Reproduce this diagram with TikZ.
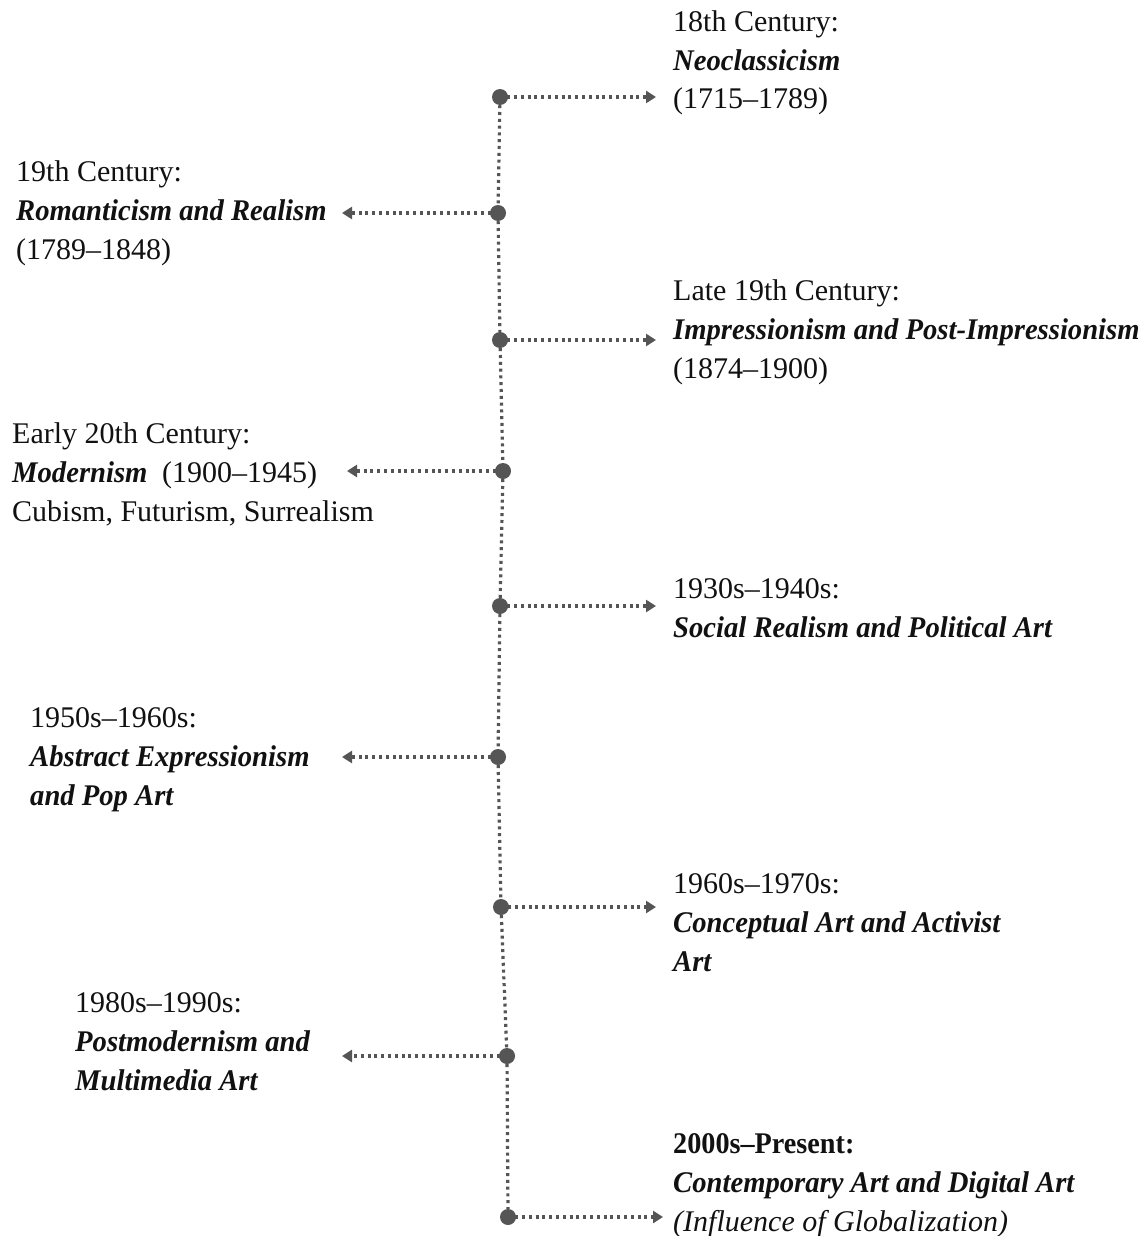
\documentclass[tikz,border=0pt]{standalone}
\usepackage{fontspec}
\setmainfont{Liberation Serif}[
  BoldFeatures={FakeStretch=0.94},
  BoldItalicFeatures={FakeStretch=0.955}]
\usetikzlibrary{arrows.meta}
\definecolor{linegray}{HTML}{555555}
\definecolor{txtcol}{HTML}{111111}
\begin{document}
\begin{tikzpicture}[x=1pt,y=-1pt,
  txt/.style={anchor=base west,inner sep=0pt,text=txtcol,font=\fontsize{30}{36}\selectfont},
  dotnode/.style={circle,fill=linegray,inner sep=0pt,minimum size=16pt},
  spine/.style={draw=linegray,line width=3.2pt,dash pattern=on 3pt off 3.8pt},
  arr/.style={draw=linegray,line width=3.2pt,dash pattern=on 3pt off 3.8pt,-{Triangle[length=10pt,width=12pt,fill=linegray]},shorten <=-1pt}
]
\useasboundingbox[fill=white] (0,0) rectangle (1143,1236);
% timeline dots
\node[dotnode] (d1) at (500,97) {};
\node[dotnode] (d2) at (498,213) {};
\node[dotnode] (d3) at (500,340) {};
\node[dotnode] (d4) at (503,471) {};
\node[dotnode] (d5) at (500,606) {};
\node[dotnode] (d6) at (498,757) {};
\node[dotnode] (d7) at (501,907) {};
\node[dotnode] (d8) at (507,1056) {};
\node[dotnode] (d9) at (508,1217) {};
% spine
\draw[spine] (d1) -- (d2);
\draw[spine] (d2) -- (d3);
\draw[spine] (d3) -- (d4);
\draw[spine] (d4) -- (d5);
\draw[spine] (d5) -- (d6);
\draw[spine] (d6) -- (d7);
\draw[spine] (d7) -- (d8);
\draw[spine] (d8) -- (d9);
% arrow ends
\coordinate (e1) at (656,97);
\coordinate (e2) at (342,213);
\coordinate (e3) at (656,340);
\coordinate (e4) at (347,471);
\coordinate (e5) at (656,606);
\coordinate (e6) at (342,757);
\coordinate (e7) at (656,907);
\coordinate (e8) at (342,1056);
\coordinate (e9) at (663,1217);
\draw[arr] (d1) -- (e1);
\draw[arr] (d2) -- (e2);
\draw[arr] (d3) -- (e3);
\draw[arr] (d4) -- (e4);
\draw[arr] (d5) -- (e5);
\draw[arr] (d6) -- (e6);
\draw[arr] (d7) -- (e7);
\draw[arr] (d8) -- (e8);
\draw[arr] (d9) -- (e9);
% texts
\node[txt] (t1a) at (673,32) {18th Century:};
\node[txt] (t1b) at (673,71) {\textbf{\textit{Neoclassicism}}};
\node[txt] (t1c) at (673,109) {(1715–1789)};

\node[txt] (t2a) at (16,181) {19th Century:};
\node[txt] (t2b) at (16,220) {\textbf{\textit{Romanticism and Realism}}};
\node[txt] (t2c) at (16,259) {(1789–1848)};

\node[txt] (t3a) at (673,300) {Late 19th Century:};
\node[txt] (t3b) at (673,339) {\textbf{\textit{Impressionism and Post-Impressionism}}};
\node[txt] (t3c) at (673,378) {(1874–1900)};

\node[txt] (t4a) at (12,443) {Early 20th Century:};
\node[txt] (t4b) at (12,482) {\textbf{\textit{Modernism}}\hspace{7pt} (1900–1945)};
\node[txt] (t4c) at (12,521) {Cubism, Futurism, Surrealism};

\node[txt] (t5a) at (673,598) {1930s–1940s:};
\node[txt] (t5b) at (673,637) {\textbf{\textit{Social Realism and Political Art}}};

\node[txt] (t6a) at (30,727) {1950s–1960s:};
\node[txt] (t6b) at (30,766) {\textbf{\textit{Abstract Expressionism}}};
\node[txt] (t6c) at (30,805) {\textbf{\textit{and Pop Art}}};

\node[txt] (t7a) at (673,893) {1960s–1970s:};
\node[txt] (t7b) at (673,932) {\textbf{\textit{Conceptual Art and Activist}}};
\node[txt] (t7c) at (673,971) {\textbf{\textit{Art}}};

\node[txt] (t8a) at (75,1012) {1980s–1990s:};
\node[txt] (t8b) at (75,1051) {\textbf{\textit{Postmodernism and}}};
\node[txt] (t8c) at (75,1090) {\textbf{\textit{Multimedia Art}}};

\node[txt] (t9a) at (673,1153) {\textbf{2000s–Present:}};
\node[txt] (t9b) at (673,1192) {\textbf{\textit{Contemporary Art and Digital Art}}};
\node[txt] (t9c) at (673,1231) {\textit{(Influence of Globalization)}};
\end{tikzpicture}
\end{document}
